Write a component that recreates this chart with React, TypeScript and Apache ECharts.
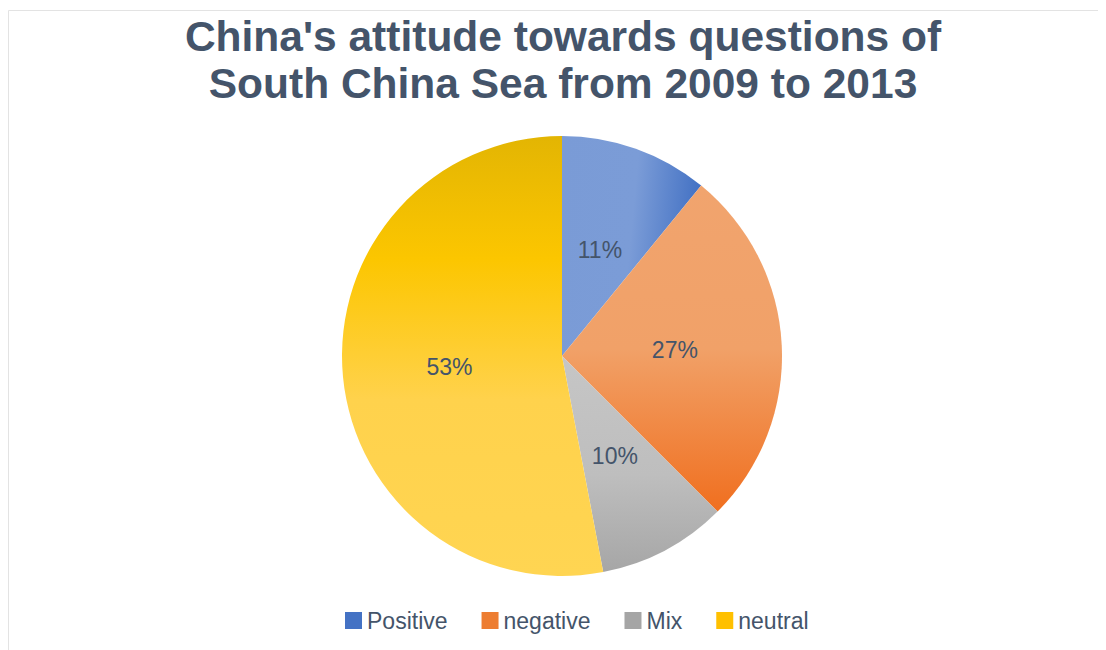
import React, { useEffect, useRef } from "react";
import * as echarts from "echarts";

const titleLines = ["China's attitude towards questions of", "South China Sea from 2009 to 2013"];
const categories = ["Positive", "negative", "Mix", "neutral"];
const shares = [10.9, 26.6, 9.5, 53.0];
const legendColors = ["#4472C4", "#ED7D31", "#A5A5A5", "#FFC000"];

const fills = [
  new echarts.graphic.LinearGradient(0, 0, 1, 0.15, [
    { offset: 0, color: "#7A9BD6" },
    { offset: 0.55, color: "#7B9CD7" },
    { offset: 1, color: "#4472C4" },
  ]),
  new echarts.graphic.LinearGradient(0, 0, 0, 1, [
    { offset: 0, color: "#F1A46E" },
    { offset: 0.5, color: "#F1A168" },
    { offset: 1, color: "#F06F1F" },
  ]),
  new echarts.graphic.LinearGradient(0, 0, 0, 1, [
    { offset: 0, color: "#C6C6C6" },
    { offset: 0.55, color: "#BEBEBE" },
    { offset: 1, color: "#A6A6A6" },
  ]),
  new echarts.graphic.LinearGradient(0, 0, 0, 1, [
    { offset: 0, color: "#E3B503" },
    { offset: 0.28, color: "#FCC600" },
    { offset: 0.6, color: "#FFD24C" },
    { offset: 1, color: "#FFD552" },
  ]),
];

export default function App() {
  const ref = useRef<HTMLDivElement>(null);
  useEffect(() => {
    if (!ref.current) return;
    const chart = echarts.init(ref.current, undefined, { renderer: "svg" });
    chart.setOption({
      animation: false,
      backgroundColor: "#ffffff",
      graphic: [
        {
          type: "rect",
          shape: { x: 0.5, y: 2.5, width: 1300, height: 800 },
          style: { fill: "none", stroke: "#E3E3E3", lineWidth: 1 },
          silent: true,
        },
      ],
      title: {
        text: titleLines.join("\n"),
        left: 555,
        textAlign: "center",
        top: 5,
        padding: 0,
        textStyle: {
          fontFamily: "Liberation Sans, Arial, sans-serif",
          fontWeight: "bold",
          fontSize: 42.5,
          lineHeight: 47,
          color: "#44546A",
        },
      },
      legend: {
        data: categories.map((c, i) => ({ name: c, itemStyle: { color: legendColors[i] } })),
        left: 337,
        top: 601,
        padding: 0,
        itemWidth: 17,
        itemHeight: 17,
        itemGap: 34,
        icon: "rect",
        textStyle: {
          fontFamily: "Liberation Sans, Arial, sans-serif",
          fontSize: 23,
          color: "#44546A",
          padding: [0, 0, 0, 0],
        },
      },
      series: [
        {
          type: "pie",
          center: [554, 348],
          radius: [0, 220],
          startAngle: 90,
          clockwise: true,
          silent: true,
          label: {
            show: true,
            position: "inside",
            formatter: (p: any) => Math.round(p.percent) + "%",
            fontFamily: "Liberation Sans, Arial, sans-serif",
            fontSize: 23,
            color: "#44546A",
          },
          labelLine: { show: false },
          itemStyle: { borderWidth: 0 },
          data: categories.map((c, i) => ({
            name: c,
            value: shares[i],
            itemStyle: { color: fills[i] },
          })),
        },
      ],
    });
    return () => chart.dispose();
  }, []);
  return <div ref={ref} style={{ width: 1098, height: 642 }} />;
}
